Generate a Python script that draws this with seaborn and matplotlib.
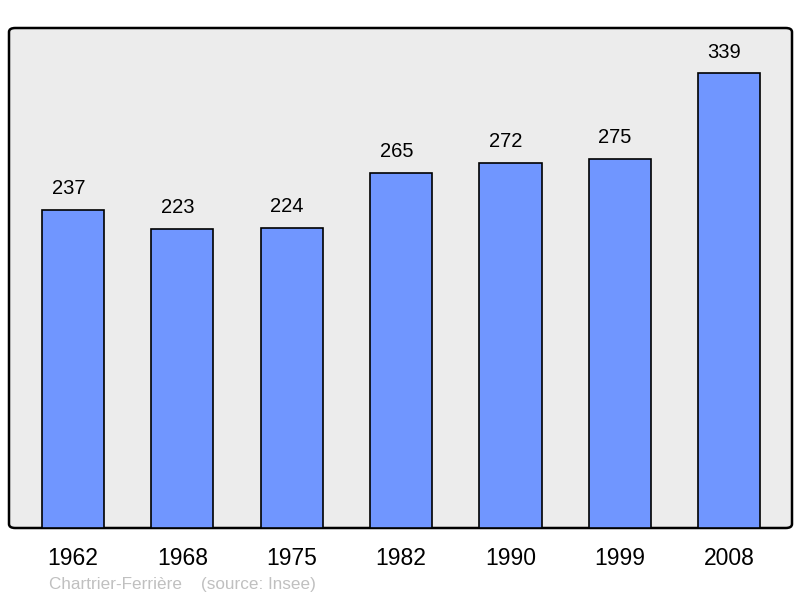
import pandas as pd
import matplotlib.pyplot as plt
import seaborn as sns
from matplotlib.patches import FancyBboxPatch

# Population by census year
years = ["1962", "1968", "1975", "1982", "1990", "1999", "2008"]
population = [237, 223, 224, 265, 272, 275, 339]

df = pd.DataFrame({"year": years, "population": population})

sns.set_style("white")
plt.rcParams["font.family"] = ["Liberation Sans", "DejaVu Sans"]
plt.rcParams["text.color"] = "black"
plt.rcParams["xtick.color"] = "black"

fig = plt.figure(figsize=(8, 5.98), dpi=100)
ax = fig.add_axes([9 / 800, 1 - 528 / 598, 783 / 800, 500 / 598])
ax.set_facecolor("none")

# rounded grey frame behind the bars
frame = FancyBboxPatch(
    (0, 0), 1, 1,
    boxstyle="round,pad=0,rounding_size=0.008",
    transform=ax.transAxes,
    facecolor="#ececec",
    edgecolor="black",
    linewidth=1.8,
    zorder=0,
    clip_on=False,
)
ax.add_patch(frame)

sns.barplot(
    data=df,
    x="year",
    y="population",
    color="#7096ff",
    saturation=1,
    width=0.57,
    edgecolor="black",
    linewidth=1.2,
    ax=ax,
    zorder=2,
)

ax.set_xlim(-0.585, 6.575)
ax.set_ylim(0, 339 * 1.1)

for i, v in enumerate(population):
    ax.annotate(
        str(v),
        (i, v),
        xytext=(-3.3, 8.5),
        textcoords="offset points",
        ha="center",
        va="bottom",
        fontsize=14.5,
        color="black",
    )

for s in ax.spines.values():
    s.set_visible(False)

ax.set_yticks([])
ax.set_xlabel("")
ax.set_ylabel("")
ax.tick_params(axis="x", length=0, labelsize=16.5, pad=14, labelcolor="black")

fig.text(
    49 / 800, 1 - 584 / 598,
    "Chartrier-Ferrière    (source: Insee)",
    color="#c0c0c0",
    fontsize=12.3,
    ha="left",
    va="center",
)

plt.savefig("out.png", dpi=100)
